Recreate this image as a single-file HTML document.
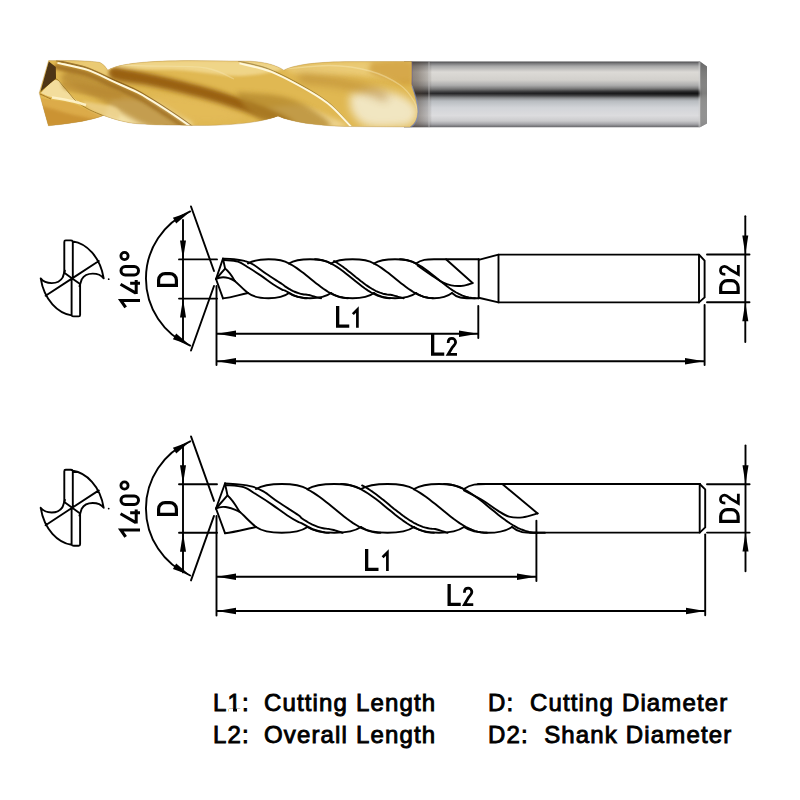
<!DOCTYPE html>
<html><head><meta charset="utf-8"><style>
html,body{margin:0;padding:0;background:#fff;width:800px;height:800px;overflow:hidden}
.wrap{position:relative;width:800px;height:800px}
.leg{position:absolute;font-family:"Liberation Sans",sans-serif;font-size:24px;color:#000;white-space:pre;line-height:1;letter-spacing:1.15px;-webkit-text-stroke:0.9px #000}
</style></head><body><div class="wrap">
<svg width="800" height="800" viewBox="0 0 800 800" style="position:absolute;left:0;top:0">
<defs>
<clipPath id="gc"><path d="M48.6,60.6 C70,60.2 92,60.8 100,62.5 C104,64.5 106,67.5 107.8,70.2 C120,63 150,60.8 190,60.6 L250,61.2 C265,62 276,65 283.8,70.2 C296,64 320,61.8 350,61.6 L411.5,61.6 L411.5,84 C414,92 418,104 417.8,112 C417.5,119 415,124 410,127 L345,126.5 C315,125.5 292,122 278,116 C262,122 235,125.5 200,125.5 C160,125.2 135,124.5 126,122 C116,120 108,117 103.5,115.4 C92,120 75,123 48.4,125.8 L39.2,93 Z"/></clipPath>
<filter id="b4" x="-30%" y="-50%" width="160%" height="200%"><feGaussianBlur stdDeviation="4"/></filter>
<filter id="b3" x="-30%" y="-50%" width="160%" height="200%"><feGaussianBlur stdDeviation="2.6"/></filter>
<filter id="b2" x="-30%" y="-50%" width="160%" height="200%"><feGaussianBlur stdDeviation="1.6"/></filter>
<filter id="b1" x="-30%" y="-50%" width="160%" height="200%"><feGaussianBlur stdDeviation="0.7"/></filter>
<linearGradient id="sh" x1="0" y1="61.5" x2="0" y2="127.5" gradientUnits="userSpaceOnUse"><stop offset="0" stop-color="#4a4a4c"/><stop offset="0.03" stop-color="#7a7a7c"/><stop offset="0.07" stop-color="#a8a8a8"/><stop offset="0.16" stop-color="#dcdad6"/><stop offset="0.28" stop-color="#d2d0cc"/><stop offset="0.36" stop-color="#acacac"/><stop offset="0.42" stop-color="#767676"/><stop offset="0.465" stop-color="#3a3a3c"/><stop offset="0.485" stop-color="#2a2a2c"/><stop offset="0.51" stop-color="#4a4a4c"/><stop offset="0.55" stop-color="#8c8e90"/><stop offset="0.6" stop-color="#b8bcc0"/><stop offset="0.7" stop-color="#d2d4d8"/><stop offset="0.82" stop-color="#dcdcde"/><stop offset="0.9" stop-color="#cacacc"/><stop offset="0.95" stop-color="#a4a4a8"/><stop offset="1" stop-color="#5e5e62"/></linearGradient>
<linearGradient id="dk" x1="430" y1="0" x2="700" y2="0" gradientUnits="userSpaceOnUse"><stop offset="0" stop-color="#000" stop-opacity="0"/><stop offset="1" stop-color="#000" stop-opacity="0.55"/></linearGradient>
<linearGradient id="chf" x1="0" y1="66" x2="0" y2="124" gradientUnits="userSpaceOnUse"><stop offset="0" stop-color="#6a6a6a"/><stop offset="0.5" stop-color="#8a8a88"/><stop offset="1" stop-color="#8a8a8a"/></linearGradient>
</defs>
<path d="M404,61.6 L700,61.6 L707,66.5 L707,123.5 L700,127.2 L404,127.2 Z" fill="url(#sh)"/>
<path d="M700,61.8 L707,66.5 L707,123.5 L700,127 Z" fill="url(#chf)" opacity="0.9"/>
<rect x="698.5" y="62" width="2" height="65" fill="#cfcfcf" opacity="0.5"/>
<rect x="430" y="90.5" width="270" height="6" fill="url(#dk)" filter="url(#b2)"/>
<linearGradient id="col" x1="404" y1="0" x2="432" y2="0" gradientUnits="userSpaceOnUse"><stop offset="0" stop-color="#3a2c20" stop-opacity="0.6"/><stop offset="0.5" stop-color="#4a3c30" stop-opacity="0.45"/><stop offset="0.9" stop-color="#4a4038" stop-opacity="0.2"/><stop offset="1" stop-color="#4a4038" stop-opacity="0"/></linearGradient>
<rect x="404" y="61.6" width="28" height="65.6" fill="url(#col)"/>
<rect x="411" y="61.6" width="1.6" height="40" fill="#6a5a9a" opacity="0.55" filter="url(#b1)"/>
<rect x="428" y="61.6" width="2" height="65.6" fill="#d8d8d8" opacity="0.25" filter="url(#b1)"/>
<g clip-path="url(#gc)">
<rect x="30" y="55" width="390" height="80" fill="#e0b852"/>
<path d="M56.0,61.0 C64.7,61.0 99.0,59.2 108.0,61.0 C117.0,62.8 109.5,69.2 110.0,72.0 C110.5,74.8 115.0,78.7 111.0,78.0 C107.0,77.3 95.2,70.8 86.0,68.0 C76.8,65.2 61.0,62.2 56.0,61.0 Z" fill="#eccc78" opacity="0.9" filter="url(#b2)"/>
<path d="M108.0,66.0 C115.0,65.2 126.3,61.8 150.0,61.0 C173.7,60.2 227.7,59.8 250.0,61.0 C272.3,62.2 285.7,65.5 284.0,68.0 C282.3,70.5 258.0,75.7 240.0,76.0 C222.0,76.3 196.0,71.0 176.0,70.0 C156.0,69.0 131.3,70.7 120.0,70.0 C108.7,69.3 110.0,66.7 108.0,66.0 Z" fill="#f0d68c" opacity="0.95" filter="url(#b2)"/>
<path d="M284.0,68.0 C291.7,67.0 308.3,63.0 330.0,62.0 C351.7,61.0 400.0,59.0 414.0,62.0 C428.0,65.0 423.0,77.7 414.0,80.0 C405.0,82.3 379.0,77.0 360.0,76.0 C341.0,75.0 312.7,75.3 300.0,74.0 C287.3,72.7 286.7,69.0 284.0,68.0 Z" fill="#ecce7c" opacity="0.85" filter="url(#b3)"/>
<path d="M41.0,93.0 C43.5,90.8 51.3,80.0 56.0,80.0 C60.7,80.0 65.7,89.7 69.0,93.0 C72.3,96.3 73.2,98.0 76.0,100.0 C78.8,102.0 86.8,104.8 86.0,105.0 C85.2,105.2 76.8,102.3 71.0,101.0 C65.2,99.7 56.0,98.3 51.0,97.0 C46.0,95.7 42.7,93.7 41.0,93.0 Z" fill="#f3dd9c" opacity="1" filter="url(#b1)"/>
<path d="M112.0,100.0 C118.3,100.0 139.0,97.7 150.0,100.0 C161.0,102.3 171.0,109.7 178.0,114.0 C185.0,118.3 196.7,123.8 192.0,126.0 C187.3,128.2 163.3,127.3 150.0,127.0 C136.7,126.7 119.7,125.5 112.0,124.0 C104.3,122.5 104.0,122.0 104.0,118.0 C104.0,114.0 110.7,103.0 112.0,100.0 Z" fill="#f4e2a8" opacity="1" filter="url(#b3)"/>
<path d="M150.0,95.0 C159.3,96.0 190.3,97.3 206.0,101.0 C221.7,104.7 247.2,113.8 244.0,117.0 C240.8,120.2 202.7,123.7 187.0,120.0 C171.3,116.3 156.2,99.2 150.0,95.0 Z" fill="#e4bc5c" opacity="0.6" filter="url(#b3)"/>
<path d="M350.0,94.0 C354.3,93.3 367.7,89.8 376.0,90.0 C384.3,90.2 393.7,92.7 400.0,95.0 C406.3,97.3 411.0,101.0 414.0,104.0 C417.0,107.0 418.0,110.2 418.0,113.0 C418.0,115.8 416.2,118.8 414.0,121.0 C411.8,123.2 412.7,125.2 405.0,126.0 C397.3,126.8 376.8,128.3 368.0,126.0 C359.2,123.7 355.0,117.3 352.0,112.0 C349.0,106.7 350.3,97.0 350.0,94.0 Z" fill="#f2e8c8" opacity="0.95" filter="url(#b4)"/>
<path d="M372.0,62.0 C378.5,62.0 404.5,58.3 411.0,62.0 C417.5,65.7 414.5,81.0 411.0,84.0 C407.5,87.0 396.8,82.0 390.0,80.0 C383.2,78.0 373.0,75.0 370.0,72.0 C367.0,69.0 371.7,63.7 372.0,62.0 Z" fill="#c8922e" opacity="0.6" filter="url(#b3)"/>
<path d="M266.0,108.0 C271.7,107.7 289.3,104.5 300.0,106.0 C310.7,107.5 322.5,113.5 330.0,117.0 C337.5,120.5 354.2,125.3 345.0,127.0 C335.8,128.7 288.2,130.2 275.0,127.0 C261.8,123.8 267.5,111.2 266.0,108.0 Z" fill="#f0d898" opacity="0.85" filter="url(#b3)"/>
<path d="M70.0,70.0 C76.8,72.0 97.5,76.7 111.0,82.0 C124.5,87.3 138.7,94.5 151.0,102.0 C163.3,109.5 185.2,122.8 185.0,127.0 C184.8,131.2 164.2,131.5 150.0,127.0 C135.8,122.5 114.7,107.8 100.0,100.0 C85.3,92.2 67.0,85.0 62.0,80.0 C57.0,75.0 68.7,71.7 70.0,70.0 Z" fill="#b48630" opacity="0.75" filter="url(#b3)"/>
<path d="M56.0,63.5 C61.0,64.7 76.8,67.5 86.0,70.5 C95.2,73.5 102.7,78.0 111.0,81.8 C119.3,85.5 129.3,89.7 136.0,93.0 C142.7,96.3 144.3,97.6 151.0,101.8 C157.7,105.9 169.0,113.3 176.0,118.0 C183.0,122.7 190.2,127.0 193.0,130.0 C195.8,133.0 195.8,137.0 193.0,136.0 C190.2,135.0 183.0,128.7 176.0,124.0 C169.0,119.3 157.7,111.9 151.0,107.8 C144.3,103.6 142.7,102.3 136.0,99.0 C129.3,95.7 119.3,91.5 111.0,87.8 C102.7,84.0 95.2,79.5 86.0,76.5 C76.8,73.5 61.0,71.7 56.0,69.5 C51.0,67.3 56.0,64.5 56.0,63.5 Z" fill="#a07020" opacity="0.85" filter="url(#b2)"/>
<path d="M112.0,67.0 C118.3,68.2 134.3,70.6 150.0,74.0 C165.7,77.4 187.3,82.2 206.0,87.5 C224.7,92.8 247.7,100.4 262.0,106.0 C276.3,111.6 287.0,116.5 292.0,121.0 C297.0,125.5 297.0,133.5 292.0,133.0 C287.0,132.5 276.3,123.6 262.0,118.0 C247.7,112.4 224.7,104.8 206.0,99.5 C187.3,94.2 165.7,89.4 150.0,86.0 C134.3,82.6 118.3,82.2 112.0,79.0 C105.7,75.8 112.0,69.0 112.0,67.0 Z" fill="#9a6414" opacity="1" filter="url(#b3)"/>
<path d="M112.0,69.0 C118.3,70.2 134.3,72.6 150.0,76.0 C165.7,79.4 187.3,84.2 206.0,89.5 C224.7,94.8 247.7,102.4 262.0,108.0 C276.3,113.6 287.0,119.5 292.0,123.0 C297.0,126.5 297.0,130.5 292.0,129.0 C287.0,127.5 276.3,119.6 262.0,114.0 C247.7,108.4 224.7,100.8 206.0,95.5 C187.3,90.2 165.7,85.4 150.0,82.0 C134.3,78.6 118.3,77.2 112.0,75.0 C105.7,72.8 112.0,70.0 112.0,69.0 Z" fill="#9a6010" opacity="0.6" filter="url(#b2)"/>
<path d="M236.0,92.0 C243.3,92.7 267.7,93.3 280.0,96.0 C292.3,98.7 301.7,102.8 310.0,108.0 C318.3,113.2 334.7,123.8 330.0,127.0 C325.3,130.2 295.3,129.5 282.0,127.0 C268.7,124.5 257.7,117.8 250.0,112.0 C242.3,106.2 238.3,95.3 236.0,92.0 Z" fill="#b0842c" opacity="0.7" filter="url(#b3)"/>
<path d="M300.0,73.0 C305.0,73.7 320.0,75.3 330.0,77.0 C340.0,78.7 350.8,80.5 360.0,83.0 C369.2,85.5 380.8,89.0 385.0,92.0 C389.2,95.0 389.2,101.0 385.0,101.0 C380.8,101.0 369.2,94.5 360.0,92.0 C350.8,89.5 340.0,87.7 330.0,86.0 C320.0,84.3 305.0,84.2 300.0,82.0 C295.0,79.8 300.0,74.5 300.0,73.0 Z" fill="#a87428" opacity="0.45" filter="url(#b4)"/>
<path d="M41.0,98.0 C42.7,98.3 46.0,99.2 51.0,100.0 C56.0,100.8 64.8,101.3 71.0,103.0 C77.2,104.7 82.5,107.7 88.0,110.0 C93.5,112.3 103.7,115.0 104.0,117.0 C104.3,119.0 99.3,120.5 90.0,122.0 C80.7,123.5 56.2,130.0 48.0,126.0 C39.8,122.0 42.2,102.7 41.0,98.0 Z" fill="#dcaa48" opacity="0.9" filter="url(#b1)"/>
<path d="M42.0,106.0 C46.7,107.3 61.2,111.5 70.0,114.0 C78.8,116.5 98.7,119.0 95.0,121.0 C91.3,123.0 56.8,128.5 48.0,126.0 C39.2,123.5 43.0,109.3 42.0,106.0 Z" fill="#c08428" opacity="0.6" filter="url(#b2)"/>
<path d="M62.0,81.0 C71.0,82.5 107.0,87.2 116.0,90.0 C125.0,92.8 124.0,97.8 116.0,98.0 C108.0,98.2 77.0,93.8 68.0,91.0 C59.0,88.2 63.0,82.7 62.0,81.0 Z" fill="#b88830" opacity="0.6" filter="url(#b2)"/>
<path d="M82.0,101.0 C87.7,102.2 110.0,105.0 116.0,108.0 C122.0,111.0 120.0,117.7 118.0,119.0 C116.0,120.3 108.8,117.7 104.0,116.0 C99.2,114.3 92.7,111.5 89.0,109.0 C85.3,106.5 83.2,102.3 82.0,101.0 Z" fill="#ecd08a" opacity="0.8" filter="url(#b2)"/>
<path d="M56.0,60.5 C61.0,61.7 76.8,64.5 86.0,67.5 C95.2,70.5 102.7,75.0 111.0,78.8 C119.3,82.5 129.3,86.7 136.0,90.0 C142.7,93.3 144.3,94.6 151.0,98.8 C157.7,102.9 169.0,110.3 176.0,115.0 C183.0,119.7 190.2,125.0 193.0,127.0 " fill="none" stroke="#6a4008" stroke-width="1.6" opacity="0.6" filter="url(#b1)"/>
<path d="M57.5,62.9 C62.5,64.1 78.3,66.9 87.5,69.9 C96.7,72.9 104.2,77.4 112.5,81.2 C120.8,84.9 130.8,89.1 137.5,92.4 C144.2,95.7 145.8,97.0 152.5,101.2 C159.2,105.3 170.5,112.7 177.5,117.4 C184.5,122.1 191.7,127.4 194.5,129.4 " fill="none" stroke="#fff8dc" stroke-width="2.0" opacity="1" filter="url(#b1)"/>
<path d="M238.0,61.0 C243.3,62.4 258.3,64.8 270.0,69.5 C281.7,74.2 298.0,83.2 308.0,89.0 C318.0,94.8 322.7,97.7 330.0,104.0 C337.3,110.3 348.3,123.2 352.0,127.0 " fill="none" stroke="#5e4210" stroke-width="1.2" opacity="0.45" filter="url(#b1)"/>
<path d="M239.5,63.4 C244.8,64.8 259.8,67.2 271.5,71.9 C283.2,76.6 299.5,85.7 309.5,91.4 C319.5,97.2 324.2,100.1 331.5,106.4 C338.8,112.7 349.8,125.6 353.5,129.4 " fill="none" stroke="#fff8dc" stroke-width="2.0" opacity="1" filter="url(#b1)"/>
<path d="M40.0,92.5 C41.3,91.2 45.3,87.2 48.0,85.0 C50.7,82.8 53.5,78.8 56.0,79.0 C58.5,79.2 60.8,83.7 63.0,86.0 C65.2,88.3 66.8,90.5 69.0,93.0 C71.2,95.5 72.8,98.3 76.0,101.0 C79.2,103.7 83.3,106.5 88.0,109.0 C92.7,111.5 101.3,114.8 104.0,116.0 " fill="none" stroke="#8e6818" stroke-width="1.0" opacity="0.7" filter="url(#b1)"/>
<path d="M108.5,70.0 C110.4,69.2 113.1,66.2 120.0,65.5 C126.9,64.8 135.7,65.6 150.0,66.0 C164.3,66.4 192.0,65.8 206.0,68.0 C220.0,70.2 229.3,77.2 234.0,79.0 " fill="none" stroke="#f8e8b4" stroke-width="1.3" opacity="0.4" filter="url(#b1)"/>
<path d="M286.0,69.0 C293.3,68.4 316.0,65.2 330.0,65.5 C344.0,65.8 358.3,67.8 370.0,71.0 C381.7,74.2 392.7,80.0 400.0,85.0 C407.3,90.0 411.0,96.3 414.0,101.0 C417.0,105.7 417.3,111.0 418.0,113.0 " fill="none" stroke="#f8e8b4" stroke-width="1.3" opacity="0.45" filter="url(#b1)"/>
<path d="M48.8,61.5 L55.8,67 L56,78.5 L47,86 L40.5,91.5 Z" fill="#4e3412" filter="url(#b1)"/>
<path d="M52.0,97.5 C55.2,98.1 65.3,99.8 71.0,101.0 C76.7,102.2 83.5,104.3 86.0,105.0 " fill="none" stroke="#fff4cc" stroke-width="2.6" opacity="0.9" filter="url(#b1)"/>
<path d="M40.0,94.0 C41.8,94.8 49.2,98.2 51.0,99.0 " fill="none" stroke="#8a5a14" stroke-width="1.0" opacity="0.7" filter="url(#b1)"/>
</g>
<path d="M48.6,60.6 C70,60.2 92,60.8 100,62.5 C104,64.5 106,67.5 107.8,70.2 C120,63 150,60.8 190,60.6 L250,61.2 C265,62 276,65 283.8,70.2 C296,64 320,61.8 350,61.6 L411.5,61.6 L411.5,84 C414,92 418,104 417.8,112 C417.5,119 415,124 410,127 L345,126.5 C315,125.5 292,122 278,116 C262,122 235,125.5 200,125.5 C160,125.2 135,124.5 126,122 C116,120 108,117 103.5,115.4 C92,120 75,123 48.4,125.8 L39.2,93 Z" fill="none" stroke="#a88440" stroke-width="0.7" opacity="0.45"/>
<path d="M412,86 C415,94 418.5,104 418.2,112 C418,119 415.5,124 411,127" fill="none" stroke="#7a90d0" stroke-width="1.2" opacity="0.6" filter="url(#b1)"/>
</svg>
<svg width="800" height="800" viewBox="0 0 800 800" style="position:absolute;left:0;top:0"><g fill="none" stroke="#000" stroke-width="1.9" stroke-linejoin="round" stroke-linecap="round"><style>.f{fill:#000;stroke:none}</style><polyline points="223,258.6 216,279 223,298.4"/><polyline points="223,258.6 225.1,268.6 216,279"/><path d="M225.1,268.6 Q230.1,272.6 234.7,280.9"/><path d="M216,279 C222,276 228,277 234.7,280.9"/><path d="M234.7,280.9 C238.7,284.09999999999997 243,289.15 248,293"/><path d="M223,298.4 C233,297.4 238,295 248,293"/><path d="M248,263.5 C257,257.90 280,257.90 289,263.5"/><path d="M248,293 C257,299.93 280,299.93 289,293"/><path d="M289,263.5 C298,257.90 322,257.90 331,263.5"/><path d="M289,293 C298,299.93 322,299.93 331,293"/><path d="M331,263.5 C340,257.90 365,257.90 374,263.5"/><path d="M331,293 C340,299.93 365,299.93 374,293"/><path d="M374,263.5 C383,257.90 407,257.90 416,263.5"/><path d="M374,293 C383,299.93 407,299.93 416,293"/><path d="M416,263.5 C421.4,259.3 426.8,259.3 434,259.3 L478.7,259.3"/><path d="M416,293 C425,299.93 443,299.93 452,293"/><path d="M452,293 C457.4,298.2 462.8,298.2 470,298.2 L478.7,298.2"/><path d="M224.4,260.0 C226.7,260.3 233.9,260.3 238.0,261.6 C242.1,262.9 244.9,265.4 248.8,267.8 C252.6,270.1 257.0,272.9 261.0,275.6 C265.0,278.3 269.5,281.9 273.0,284.2 C276.5,286.5 280.0,288.5 282.0,289.6 C284.0,290.7 283.0,289.6 285.1,290.6 C287.2,291.6 291.4,294.4 294.5,295.6 C297.6,296.8 301.8,297.6 303.9,298.0 C306.0,298.5 306.5,298.2 307.0,298.2 "/><path d="M222.9,258.6 C224.8,258.7 230.3,258.9 234.0,259.3 C237.7,259.7 241.9,260.2 245.2,261.2 C248.5,262.1 250.5,262.9 254.0,265.0 C257.5,267.1 261.5,270.6 266.2,273.8 C270.9,276.9 278.8,281.9 282.0,284.0 C285.2,286.1 283.9,285.5 285.1,286.4 C286.4,287.3 288.1,288.3 289.6,289.2 C291.1,290.0 292.5,290.8 294.0,291.5 C295.5,292.1 297.0,292.7 298.5,293.2 C299.9,293.7 301.4,294.1 302.9,294.3 C304.4,294.6 305.9,294.5 307.4,294.8 C308.9,295.0 310.3,295.4 311.8,295.8 C313.3,296.2 314.8,296.7 316.3,297.1 C317.8,297.5 320.0,298.0 320.7,298.2 C321.5,298.4 320.7,298.2 320.7,298.2 "/><polyline points="289.0,263.5 291.5,264.8 293.9,266.3 296.4,267.9 298.8,269.6 301.3,271.4 303.8,273.3 306.2,275.3 308.7,277.3 311.1,279.3 313.6,281.3 316.0,283.2 318.5,285.1 321.0,287.0 323.4,288.8 325.9,290.4 328.3,292.0 330.8,293.4 333.2,294.6 335.7,295.7 338.2,296.6 340.6,297.3 343.1,297.8 345.5,298.1 348.0,298.2"/><polyline points="315.0,259.3 318.1,259.5 321.2,260.0 324.4,260.8 327.5,261.9 330.6,263.3 333.8,265.0 336.9,266.9 340.0,269.0 343.1,271.3 346.2,273.7 349.4,276.2 352.5,278.8 355.6,281.3 358.8,283.8 361.9,286.2 365.0,288.5 368.1,290.6 371.2,292.5 374.4,294.2 377.5,295.6 380.6,296.7 383.8,297.5 386.9,298.0 390.0,298.2"/><polyline points="334.0,261.1 335.5,261.9 337.0,262.8 338.4,263.8 339.9,264.7 341.4,265.8 342.9,266.8 344.4,268.0 345.9,269.1 347.3,270.2 348.8,271.4 350.3,272.6 351.8,273.8 353.3,275.0 354.8,276.2 356.2,277.4 357.7,278.6 359.2,279.8 360.7,281.0 362.2,282.1 363.7,283.2 365.1,284.3 366.6,285.4 368.1,286.4 369.6,287.4 371.1,288.3 372.6,289.2 374.1,290.0 375.5,290.8 377.0,291.5 378.5,292.1 380.0,292.7 381.5,293.2 382.9,293.7 384.4,294.0 385.9,294.3 387.4,294.6 388.9,294.7 390.4,294.8 391.8,295.0 393.3,295.4 394.8,295.8 396.3,296.2 397.8,296.7 399.3,297.1 400.8,297.5 402.2,297.9 403.7,298.2"/><polyline points="374.0,263.5 376.5,264.8 378.9,266.3 381.4,267.9 383.8,269.6 386.3,271.4 388.8,273.3 391.2,275.3 393.7,277.3 396.1,279.3 398.6,281.3 401.0,283.2 403.5,285.1 406.0,287.0 408.4,288.8 410.9,290.4 413.3,292.0 415.8,293.4 418.2,294.6 420.7,295.7 423.2,296.6 425.6,297.3 428.1,297.8 430.5,298.1 433.0,298.2"/><polyline points="400.0,259.3 403.1,259.5 406.2,260.0 409.4,260.8 412.5,261.9 415.6,263.3 418.8,265.0 421.9,266.9 425.0,269.0 428.1,271.3 431.2,273.7 434.4,276.2 437.5,278.8 440.6,281.3 443.8,283.8 446.9,286.2 450.0,288.5 453.1,290.6 456.2,292.5 459.4,294.2 462.5,295.6 465.6,296.7 468.8,297.5 471.9,298.0 475.0,298.2"/><polyline points=""/><path d="M417.5,265.5 C419.9,267.2 428.0,272.8 432.1,275.6 C436.2,278.4 439.1,280.6 442.2,282.2 C445.4,283.8 447.9,284.8 451.2,285.4 C454.6,286.0 458.9,286.1 462.5,285.8 C466.1,285.4 470.9,283.5 472.6,283.0 "/><path d="M478.7,259.3 L478.7,298.2"/><line x1="446" y1="259.3" x2="472.6" y2="283"/><path d="M478.7,259.8 L498.5,254.6 L699,254.6 L704.6,260.7 L704.6,297.4 L699,302.4 L498.5,302.4 L478.7,297.8"/><line x1="498.5" y1="254.6" x2="498.5" y2="302.4"/><line x1="699" y1="254.6" x2="699" y2="302.4"/><path d="M190.2,211.4 A73,73 0 0 0 190.2,345.6"/><polygon class="f" points="189.7,211.9 176.2,223.5 172.9,217.8"/><polygon class="f" points="189.7,345.1 172.9,339.2 176.2,333.5"/><line x1="191" y1="206.5" x2="214" y2="271.0"/><line x1="214" y1="286.0" x2="191" y2="350.5"/><line x1="183" y1="220" x2="183" y2="340"/><polygon class="f" points="183.0,259.4 180.0,240.4 186.0,240.4"/><polygon class="f" points="183.0,298.6 186.0,317.6 180.0,317.6"/><line x1="179" y1="259.4" x2="217" y2="259.4"/><line x1="179" y1="298.6" x2="217" y2="298.6"/><line x1="216.5" y1="286" x2="216.5" y2="365"/><line x1="478.3" y1="306" x2="478.3" y2="338"/><line x1="704.6" y1="305" x2="704.6" y2="365"/><line x1="217" y1="333.7" x2="478" y2="333.7"/><polygon class="f" points="217.0,333.7 236.0,330.5 236.0,336.9"/><polygon class="f" points="478.0,333.7 459.0,336.9 459.0,330.5"/><line x1="217" y1="361.2" x2="704" y2="361.2"/><polygon class="f" points="217.0,361.2 236.0,358.0 236.0,364.4"/><polygon class="f" points="704.0,361.2 685.0,364.4 685.0,358.0"/><line x1="707" y1="254.5" x2="749.5" y2="254.5"/><line x1="707" y1="302.3" x2="749.5" y2="302.3"/><line x1="745.3" y1="216.3" x2="745.3" y2="342"/><polygon class="f" points="745.3,254.5 742.3,235.5 748.3,235.5"/><polygon class="f" points="745.3,302.3 748.3,321.3 742.3,321.3"/><g transform="translate(72.2,278.4)"><path d="M-7.9,-5.7 L-7.9,-36.5 Q-7.9,-38 -6.5,-38 L-1.5,-38 Q0,-38 0.6,-37 C14,-35 28,-22 31.5,0 C27,-6 14,-7 9.5,1 L7.3,7.8 M0.6,-37 L0.6,0 M0,0 L26.6,-17.4 M0,0 L-7.9,-5.7"/><path d="M-7.9,-5.7 L-7.9,-36.5 Q-7.9,-38 -6.5,-38 L-1.5,-38 Q0,-38 0.6,-37 C14,-35 28,-22 31.5,0 C27,-6 14,-7 9.5,1 L7.3,7.8 M0.6,-37 L0.6,0 M0,0 L26.6,-17.4 M0,0 L-7.9,-5.7" transform="rotate(180)"/><circle cx="36.5" cy="0.8" r="0.9" fill="#000" stroke="none"/></g><polyline points="225,483.5 216,508.5 225,533.2"/><polyline points="225,483.5 227.5,495.4 216,508.5"/><path d="M227.5,495.4 Q232.5,499.4 239.4,511.6"/><path d="M216,508.5 C222,505.5 228,506.5 239.4,511.6"/><path d="M239.4,511.6 C243.4,514.8000000000001 251,523.15 256,527"/><path d="M225,533.2 C235,532.2 246,529 256,527"/><path d="M256,489 C267,482.33 296.5,482.33 307.5,489"/><path d="M256,527 C267,534.73 296.5,534.73 307.5,527"/><path d="M307.5,489 C318.5,482.33 350,482.33 361,489"/><path d="M307.5,527 C318.5,534.73 350,534.73 361,527"/><path d="M361,489 C372,482.33 403,482.33 414,489"/><path d="M361,527 C372,534.73 403,534.73 414,527"/><path d="M414,489 C425,482.33 453,482.33 464,489"/><path d="M414,527 C425,534.73 453,534.73 464,527"/><path d="M464,489 C470.6,484 477.2,484 486,484 L700,484"/><path d="M464,527 C475,534.73 501,534.73 512,527"/><path d="M512,527 C518.6,532.8 525.2,532.8 534,532.8 L545,532.8"/><path d="M226.7,485.2 C229.5,485.5 238.6,485.6 243.6,487.2 C248.6,488.8 252.1,491.9 256.9,494.8 C261.6,497.7 267.1,501.2 272.1,504.6 C277.1,508.0 282.6,512.3 287.0,515.2 C291.4,518.1 295.7,520.6 298.2,521.9 C300.7,523.2 299.3,522.0 301.9,523.3 C304.4,524.5 309.6,528.0 313.5,529.5 C317.4,531.1 322.5,532.0 325.1,532.6 C327.7,533.1 328.4,532.8 329.0,532.8 "/><path d="M224.9,483.5 C227.2,483.6 234.0,483.9 238.6,484.4 C243.2,484.9 248.4,485.5 252.5,486.7 C256.6,487.9 259.0,488.8 263.4,491.4 C267.8,494.0 272.8,498.4 278.6,502.3 C284.4,506.2 294.4,512.3 298.2,515.0 C302.0,517.7 300.2,517.2 301.7,518.3 C303.2,519.5 305.3,520.7 307.1,521.7 C308.8,522.8 310.6,523.7 312.4,524.6 C314.2,525.4 316.0,526.2 317.8,526.8 C319.5,527.4 321.3,527.9 323.1,528.2 C324.9,528.6 326.7,528.6 328.4,528.9 C330.2,529.2 332.0,529.6 333.8,530.0 C335.6,530.5 337.7,531.3 339.1,531.7 C340.6,532.2 342.1,532.6 342.7,532.8 "/><polyline points="307.5,489.4 310.5,491.0 313.6,492.9 316.6,494.9 319.7,497.0 322.7,499.3 325.8,501.7 328.8,504.1 331.8,506.6 334.9,509.1 337.9,511.6 341.0,514.1 344.0,516.5 347.0,518.8 350.1,521.0 353.1,523.1 356.2,525.0 359.2,526.8 362.2,528.3 365.3,529.7 368.3,530.8 371.4,531.6 374.4,532.3 377.5,532.7 380.5,532.8"/><polyline points="341.0,484.0 344.9,484.2 348.8,484.8 352.6,485.9 356.5,487.3 360.4,489.0 364.2,491.1 368.1,493.5 372.0,496.2 375.9,499.1 379.8,502.1 383.6,505.2 387.5,508.4 391.4,511.6 395.2,514.7 399.1,517.7 403.0,520.6 406.9,523.3 410.8,525.7 414.6,527.8 418.5,529.5 422.4,530.9 426.2,532.0 430.1,532.6 434.0,532.8"/><polyline points="362.1,485.4 363.9,486.3 365.7,487.3 367.5,488.4 369.2,489.5 371.0,490.7 372.8,491.9 374.6,493.2 376.4,494.5 378.2,495.9 379.9,497.3 381.7,498.7 383.5,500.1 385.3,501.6 387.1,503.0 388.9,504.5 390.6,506.0 392.4,507.4 394.2,508.9 396.0,510.3 397.8,511.7 399.6,513.1 401.4,514.5 403.1,515.8 404.9,517.1 406.7,518.3 408.5,519.5 410.3,520.7 412.1,521.7 413.8,522.8 415.6,523.7 417.4,524.6 419.2,525.4 421.0,526.1 422.8,526.8 424.5,527.3 426.3,527.8 428.1,528.2 429.9,528.6 431.7,528.8 433.4,528.9 435.2,529.0 437.0,529.5 438.8,530.0 440.6,530.6 442.4,531.2 444.1,531.7 445.9,532.3 447.7,532.8"/><polyline points="414.0,489.4 417.0,491.0 420.1,492.9 423.1,494.9 426.2,497.0 429.2,499.3 432.2,501.7 435.3,504.1 438.3,506.6 441.4,509.1 444.4,511.6 447.5,514.1 450.5,516.5 453.5,518.8 456.6,521.0 459.6,523.1 462.7,525.0 465.7,526.8 468.8,528.3 471.8,529.7 474.8,530.8 477.9,531.6 480.9,532.3 484.0,532.7 487.0,532.8"/><polyline points="444.0,484.0 447.9,484.2 451.8,484.8 455.6,485.9 459.5,487.3 463.4,489.0 467.2,491.1 471.1,493.5 475.0,496.2 478.9,499.1 482.8,502.1 486.6,505.2 490.5,508.4 494.4,511.6 498.2,514.7 502.1,517.7 506.0,520.6 509.9,523.3 513.8,525.7 517.6,527.8 521.5,529.5 525.4,530.9 529.2,532.0 533.1,532.6 537.0,532.8"/><polyline points=""/><path d="M464.0,490.4 C467.2,492.1 477.4,497.1 483.0,500.5 C488.6,503.9 493.4,507.9 497.8,510.6 C502.1,513.3 504.9,515.5 509.0,516.6 C513.1,517.7 517.7,517.9 522.5,517.4 C527.3,516.9 535.2,514.1 537.7,513.4 "/><path d="M478,484 L699.7,484 L705.2,489.4 L705.2,527.4 L699.7,532.6 L530,532.6"/><line x1="699.7" y1="484" x2="699.7" y2="532.6"/><line x1="502.3" y1="484" x2="537.6" y2="513.4"/><path d="M190.2,441.3 A73,73 0 0 0 190.2,575.5"/><polygon class="f" points="189.7,441.8 176.2,453.4 172.9,447.7"/><polygon class="f" points="189.7,575.0 172.9,569.1 176.2,563.4"/><line x1="191" y1="436.4" x2="214" y2="500.9"/><line x1="214" y1="515.9" x2="191" y2="580.4"/><line x1="183" y1="445.6" x2="183" y2="572.4"/><polygon class="f" points="183.0,484.2 180.0,465.2 186.0,465.2"/><polygon class="f" points="183.0,532.8 186.0,551.8 180.0,551.8"/><line x1="179" y1="484.2" x2="217" y2="484.2"/><line x1="179" y1="532.8" x2="217" y2="532.8"/><line x1="216.5" y1="516" x2="216.5" y2="615.6"/><line x1="536.4" y1="520.7" x2="536.4" y2="581"/><line x1="705.2" y1="534.5" x2="705.2" y2="615.3"/><line x1="217" y1="576.8" x2="536" y2="576.8"/><polygon class="f" points="217.0,576.8 236.0,573.6 236.0,580.0"/><polygon class="f" points="536.0,576.8 517.0,580.0 517.0,573.6"/><line x1="217" y1="611" x2="705" y2="611"/><polygon class="f" points="217.0,611.0 236.0,607.8 236.0,614.2"/><polygon class="f" points="705.0,611.0 686.0,614.2 686.0,607.8"/><line x1="707" y1="484.2" x2="749.6" y2="484.2"/><line x1="707" y1="532.6" x2="749.6" y2="532.6"/><line x1="745.5" y1="445.4" x2="745.5" y2="571.3"/><polygon class="f" points="745.5,484.2 742.5,465.2 748.5,465.2"/><polygon class="f" points="745.5,532.6 748.5,551.6 742.5,551.6"/><g transform="translate(72.2,507.8)"><path d="M-7.9,-5.7 L-7.9,-36.5 Q-7.9,-38 -6.5,-38 L-1.5,-38 Q0,-38 0.6,-37 C14,-35 28,-22 31.5,0 C27,-6 14,-7 9.5,1 L7.3,7.8 M0.6,-37 L0.6,0 M0,0 L26.6,-17.4 M0,0 L-7.9,-5.7"/><path d="M-7.9,-5.7 L-7.9,-36.5 Q-7.9,-38 -6.5,-38 L-1.5,-38 Q0,-38 0.6,-37 C14,-35 28,-22 31.5,0 C27,-6 14,-7 9.5,1 L7.3,7.8 M0.6,-37 L0.6,0 M0,0 L26.6,-17.4 M0,0 L-7.9,-5.7" transform="rotate(180)"/><circle cx="36.5" cy="0.8" r="0.9" fill="#000" stroke="none"/></g></g><g fill="none" stroke="#000" stroke-linecap="butt" stroke-linejoin="miter" stroke-miterlimit="3"><path transform="translate(119.5,308) rotate(-90)" d="M0.6,6.1499999999999995 L7.45,1.395 V20.5" stroke-width="3.1"/><path transform="translate(119.5,294) rotate(-90)" d="M9.799999999999999,1.0499999999999998 L0.8999999999999999,16.400000000000002 M0,16.7075 H14 M10.64,10.66 V20.5" stroke-width="3.0"/><path transform="translate(119.5,276.5) rotate(-90)" d="M1.5,5.75 A4.25,4.25 0 0 1 10.0,5.75 V14.75 A4.25,4.25 0 0 1 1.5,14.75 Z" stroke-width="3.0"/><path transform="translate(119.5,261) rotate(-90)" d="M1.4,5.0 A3.6,3.6 0 1 1 8.6,5.0 A3.6,3.6 0 1 1 1.4,5.0 Z" stroke-width="2.8"/><path transform="translate(119.5,537.5) rotate(-90)" d="M0.6,6.1499999999999995 L7.45,1.395 V20.5" stroke-width="3.1"/><path transform="translate(119.5,523.5) rotate(-90)" d="M9.799999999999999,1.0499999999999998 L0.8999999999999999,16.400000000000002 M0,16.7075 H14.0 M10.64,10.66 V20.5" stroke-width="3.0"/><path transform="translate(119.5,506.0) rotate(-90)" d="M1.5,5.75 A4.25,4.25 0 0 1 10.0,5.75 V14.75 A4.25,4.25 0 0 1 1.5,14.75 Z" stroke-width="3.0"/><path transform="translate(119.5,490.5) rotate(-90)" d="M1.4,5.0 A3.6,3.6 0 1 1 8.6,5.0 A3.6,3.6 0 1 1 1.4,5.0 Z" stroke-width="2.8"/><path transform="translate(157,287) rotate(-90)" d="M1.6,1.6 H6.909999999999999 A6.490000000000001,6.490000000000001 0 0 1 13.4,8.090000000000002 V12.909999999999997 A6.490000000000001,6.490000000000001 0 0 1 6.909999999999999,19.4 H1.6 Z" stroke-width="3.2"/><path transform="translate(157,516) rotate(-90)" d="M1.6,1.6 H6.909999999999999 A6.490000000000001,6.490000000000001 0 0 1 13.4,8.090000000000002 V12.909999999999997 A6.490000000000001,6.490000000000001 0 0 1 6.909999999999999,19.4 H1.6 Z" stroke-width="3.2"/><path transform="translate(719.1,294.1) rotate(-90)" d="M1.6,1.6 H6.909999999999999 A6.490000000000001,6.490000000000001 0 0 1 13.4,8.090000000000002 V12.559999999999974 A6.490000000000001,6.490000000000001 0 0 1 6.909999999999999,19.049999999999976 H1.6 Z" stroke-width="3.2"/><path transform="translate(719.1,275.75) rotate(-90)" d="M1.4,6.225000000000011 C1.4,1.802500000000001 3.4125000000000054,1.4 5.425000000000011,1.4 C7.437500000000017,1.4 9.450000000000022,3.0100000000000042 9.450000000000022,5.425000000000011 C9.450000000000022,7.840000000000018 8.250000000000023,8.67299999999999 5.967500000000013,11.35749999999999 L1.4,19.24999999999998 H10.850000000000023" stroke-width="2.8"/><path transform="translate(719.1,523) rotate(-90)" d="M1.6,1.6 H6.8649999999999896 A6.434999999999988,6.434999999999988 0 0 1 13.299999999999978,8.034999999999988 V12.614999999999988 A6.434999999999988,6.434999999999988 0 0 1 6.8649999999999896,19.049999999999976 H1.6 Z" stroke-width="3.2"/><path transform="translate(719.1,504.6) rotate(-90)" d="M1.4,6.225000000000011 C1.4,1.802500000000001 3.4125000000000054,1.4 5.425000000000011,1.4 C7.437500000000017,1.4 9.450000000000022,3.0100000000000042 9.450000000000022,5.425000000000011 C9.450000000000022,7.840000000000018 8.250000000000023,8.67299999999999 5.967500000000013,11.35749999999999 L1.4,19.24999999999998 H10.850000000000023" stroke-width="2.8"/><path transform="translate(336,306)" d="M1.65,0 V20.1 H13.25" stroke-width="3.3"/><path transform="translate(352.25,308.25)" d="M0.6,5.85 L5.15,1.215 V19.5" stroke-width="2.7"/><path transform="translate(431,334)" d="M1.65,0 V20.1 H13.25" stroke-width="3.3"/><path transform="translate(446.75,337)" d="M1.4,5.925 C1.4,1.7725 3.2625,1.4 5.125,1.4 C6.9875,1.4 8.85,2.89 8.85,5.125 C8.85,7.360000000000001 7.6499999999999995,7.875 5.6375,10.3125 L1.4,17.35 H10.25" stroke-width="2.8"/><path transform="translate(365,549)" d="M1.65,0 V20.35 H13.5" stroke-width="3.3"/><path transform="translate(382,551.25)" d="M0.6,5.925 L5.4,1.215 V19.75" stroke-width="2.7"/><path transform="translate(447.5,584)" d="M1.65,0 V20.35 H13.25" stroke-width="3.3"/><path transform="translate(463,586.75)" d="M1.4,5.925 C1.4,1.7725 3.2625,1.4 5.125,1.4 C6.9875,1.4 8.85,2.89 8.85,5.125 C8.85,7.360000000000001 7.6499999999999995,8.084999999999999 5.6375,10.5875 L1.4,17.85 H10.25" stroke-width="2.8"/></g></svg>
<div class="leg" style="left:213px;top:691px">L1:</div>
<div class="leg" style="left:264px;top:691px">Cutting Length</div>
<div style="position:absolute;left:228.5px;top:708.8px;width:4.3px;height:3.8px;background:#fff"></div><div style="position:absolute;left:236.6px;top:708.8px;width:4.5px;height:3.8px;background:#fff"></div>
<div class="leg" style="left:213px;top:722.9px">L2:</div>
<div class="leg" style="left:264px;top:722.9px">Overall Length</div>
<div class="leg" style="left:488px;top:691px">D:</div>
<div class="leg" style="left:530px;top:691px">Cutting Diameter</div>
<div class="leg" style="left:488px;top:722.9px">D2:</div>
<div class="leg" style="left:544.2px;top:722.9px">Shank Diameter</div>
</div></body></html>
